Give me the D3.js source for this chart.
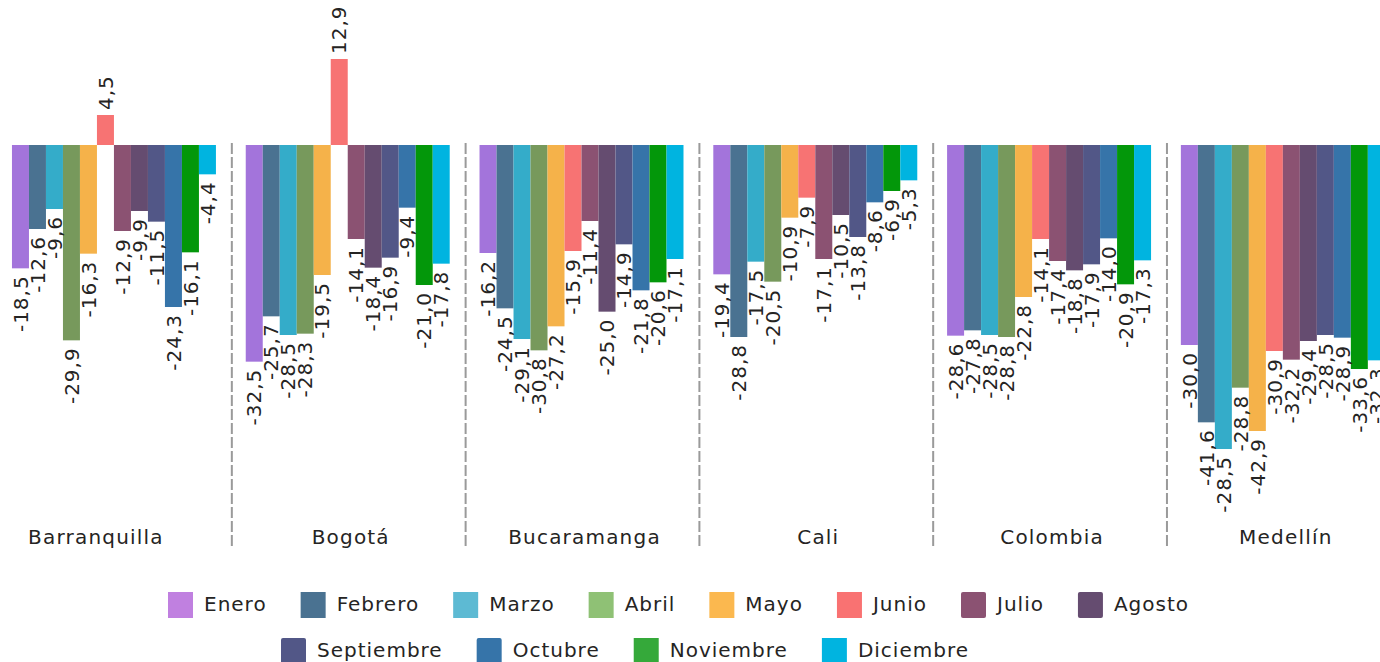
<!DOCTYPE html>
<html>
<head>
<meta charset="utf-8">
<script src="https://cdn.jsdelivr.net/npm/d3@7"></script>
<style>
  html, body { margin: 0; padding: 0; background: #fff; }
  svg { display: block; font-family: "DejaVu Sans", sans-serif; }
</style>
</head>
<body>
<div id="chart"></div>
<script>
"use strict";

var cities = ["Barranquilla", "Bogotá", "Bucaramanga", "Cali", "Colombia", "Medellín"];
var months = ["Enero", "Febrero", "Marzo", "Abril", "Mayo", "Junio",
              "Julio", "Agosto", "Septiembre", "Octubre", "Noviembre", "Diciembre"];

// bar values per city, Enero..Diciembre
var barranquilla = [-18.5, -12.6, -9.6, -29.3, -16.3, 4.5, -12.9, -9.9, -11.5, -24.3, -16.1, -4.4];
var bogota       = [-32.5, -25.7, -28.5, -28.3, -19.5, 12.9, -14.1, -18.4, -16.9, -9.4, -21.0, -17.8];
var bucaramanga  = [-16.2, -24.5, -29.1, -30.8, -27.2, -15.9, -11.4, -25.0, -14.9, -21.8, -20.6, -17.1];
var cali         = [-19.4, -28.8, -17.5, -20.5, -10.9, -7.9, -17.1, -10.5, -13.8, -8.6, -6.9, -5.3];
var colombia     = [-28.6, -27.8, -28.5, -28.8, -22.8, -14.1, -17.4, -18.8, -17.9, -14.0, -20.9, -17.3];
var medellin     = [-30.0, -41.6, -45.6, -36.4, -42.9, -30.9, -32.2, -29.4, -28.5, -28.9, -33.6, -32.3];

// data label texts as printed on the chart
var labelsBarranquilla = ["-18,5", "-12,6", "-9,6", "-29,9", "-16,3", "4,5", "-12,9", "-9,9", "-11,5", "-24,3", "-16,1", "-4,4"];
var labelsBogota       = ["-32,5", "-25,7", "-28,5", "-28,3", "-19,5", "12,9", "-14,1", "-18,4", "-16,9", "-9,4", "-21,0", "-17,8"];
var labelsBucaramanga  = ["-16,2", "-24,5", "-29,1", "-30,8", "-27,2", "-15,9", "-11,4", "-25,0", "-14,9", "-21,8", "-20,6", "-17,1"];
var labelsCali         = ["-19,4", "-28,8", "-17,5", "-20,5", "-10,9", "-7,9", "-17,1", "-10,5", "-13,8", "-8,6", "-6,9", "-5,3"];
var labelsColombia     = ["-28,6", "-27,8", "-28,5", "-28,8", "-22,8", "-14,1", "-17,4", "-18,8", "-17,9", "-14,0", "-20,9", "-17,3"];
var labelsMedellin     = ["-30,0", "-41,6", "-28,5", "-28,8", "-42,9", "-30,9", "-32,2", "-29,4", "-28,5", "-28,9", "-33,6", "-32,3"];

var barColors = ["#A374DB", "#4A7291", "#34ACC9", "#77995C", "#F5B24A", "#F77373",
                 "#8B5272", "#654C70", "#525787", "#3674A9", "#03970A", "#00B4E0"];
var legendColors = ["#C080E0", "#4A7291", "#5DBAD3", "#8FC175", "#FBB84F", "#F97272",
                    "#8B5272", "#654C70", "#525787", "#3674A9", "#35A93A", "#00B4E0"];

var values = [barranquilla, bogota, bucaramanga, cali, colombia, medellin];
var labels = [labelsBarranquilla, labelsBogota, labelsBucaramanga, labelsCali, labelsColombia, labelsMedellin];

var width = 1380, height = 662;
var textColor = "#252423";

var svg = d3.select("#chart").append("svg")
    .attr("width", width)
    .attr("height", height);

var x0 = d3.scaleBand()
    .domain(cities)
    .range([-3, 1399.8])
    .paddingInner(0.1275)
    .paddingOuter(0.064);

var x1 = d3.scaleBand()
    .domain(months)
    .range([0, x0.bandwidth()]);

var y = d3.scaleLinear()
    .domain([-45, 15])
    .range([445, 45]);

// dashed separators between groups
var step = x0.step();
var seps = cities.slice(1).map(function (c) {
    return x0(c) - (step - x0.bandwidth()) / 2 + 1;
});
svg.append("g").attr("class", "seps")
    .selectAll("line")
    .data(seps)
    .enter().append("line")
    .attr("x1", function (d) { return d; })
    .attr("x2", function (d) { return d; })
    .attr("y1", 143)
    .attr("y2", 548)
    .attr("stroke", "#9a9a9a")
    .attr("stroke-width", 2)
    .attr("stroke-dasharray", "11,3");

var groups = svg.append("g").attr("class", "groups")
    .selectAll("g")
    .data(cities)
    .enter().append("g")
    .attr("transform", function (d) { return "translate(" + x0(d) + ",0)"; });

groups.selectAll("rect")
    .data(function (d, i) {
        return months.map(function (m, j) { return { month: m, value: values[i][j], idx: j }; });
    })
    .enter().append("rect")
    .attr("x", function (d) { return x1(d.month); })
    .attr("width", x1.bandwidth())
    .attr("y", function (d) { return Math.min(y(d.value), y(0)); })
    .attr("height", function (d) { return Math.abs(y(d.value) - y(0)); })
    .attr("fill", function (d) { return barColors[d.idx]; });

groups.selectAll("text.lbl")
    .data(function (d, i) {
        return months.map(function (m, j) { return { month: m, value: values[i][j], text: labels[i][j] }; });
    })
    .enter().append("text")
    .attr("class", "lbl")
    .attr("transform", function (d) {
        var cx = x1(d.month) + x1.bandwidth() / 2;
        var cy = d.value < 0 ? y(d.value) + 7 : y(d.value) - 5;
        return "translate(" + cx + "," + cy + ") rotate(-90)";
    })
    .attr("text-anchor", function (d) { return d.value < 0 ? "end" : "start"; })
    .attr("dy", "0.36em")
    .attr("font-size", 20)
    .attr("letter-spacing", 1)
    .attr("fill", textColor)
    .text(function (d) { return d.text; });

// category axis labels
svg.append("g").attr("class", "cats")
    .selectAll("text")
    .data(cities)
    .enter().append("text")
    .attr("x", function (d, i) { return x0(d) + x0.bandwidth() / 2 + (i === 0 ? -18 : 3); })
    .attr("y", 544)
    .attr("text-anchor", "middle")
    .attr("font-size", 20)
    .attr("letter-spacing", 1.2)
    .attr("fill", textColor)
    .text(function (d) { return d; });

// legend, two rows
var legendRows = [months.slice(0, 8), months.slice(8)];
var rowStart = [168, 281];
var rowTop = [592, 638];
var sw = 25, sh = 26, gapText = 11, gapItem = 34;

legendRows.forEach(function (row, r) {
    var g = svg.append("g").attr("class", "legend-row");
    var xpos = rowStart[r];
    row.forEach(function (m) {
        var idx = months.indexOf(m);
        g.append("rect")
            .attr("x", xpos)
            .attr("y", rowTop[r])
            .attr("width", sw)
            .attr("height", sh)
            .attr("rx", idx >= 6 && idx <= 9 ? 2 : 0)
            .attr("fill", legendColors[idx]);
        var t = g.append("text")
            .attr("x", xpos + sw + gapText)
            .attr("y", rowTop[r] + 19)
            .attr("font-size", 20)
            .attr("letter-spacing", 1)
            .attr("fill", textColor)
            .text(m);
        xpos += sw + gapText + t.node().getComputedTextLength() + gapItem;
    });
});
</script>
</body>
</html>
